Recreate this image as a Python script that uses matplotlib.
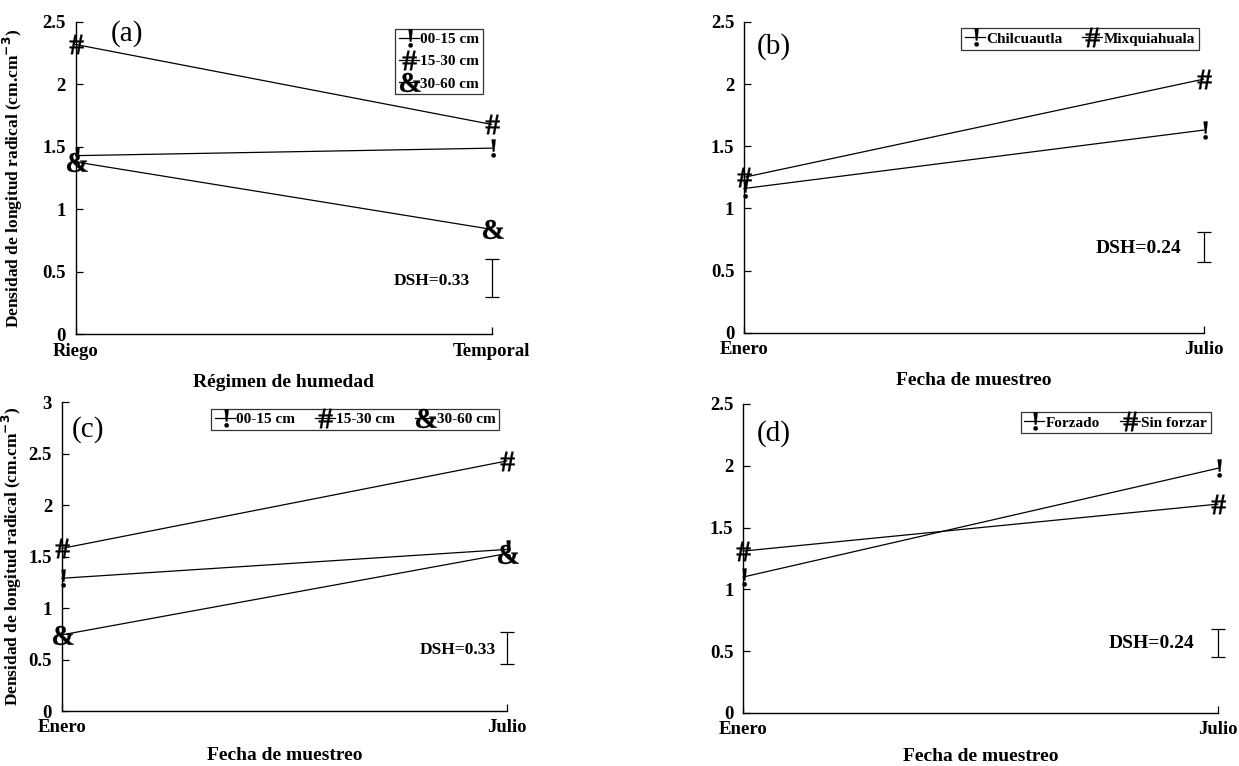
import matplotlib
matplotlib.use('Agg')
import matplotlib.pyplot as plt
from matplotlib.textpath import TextPath
from matplotlib.font_manager import FontProperties
from matplotlib.path import Path

plt.rcParams['font.family'] = ['Liberation Serif', 'DejaVu Serif']
plt.rcParams['font.weight'] = 'bold'

# datos
x_a = ['Riego', 'Temporal']
a_00_15 = [1.43, 1.49]
a_15_30 = [2.32, 1.68]
a_30_60 = [1.38, 0.84]

x_fecha = ['Enero', 'Julio']
b_chil = [1.16, 1.63]
b_mixq = [1.25, 2.04]

c_00_15 = [1.29, 1.57]
c_15_30 = [1.58, 2.43]
c_30_60 = [0.74, 1.53]

d_forz = [1.10, 1.98]
d_sinf = [1.31, 1.69]

dsh_a = (0.30, 0.60)
dsh_b = (0.57, 0.81)
dsh_c = (0.46, 0.77)
dsh_d = (0.45, 0.68)


def glyph(ch):
    # marcador a partir del caracter (como en el grafico original)
    fp = FontProperties(family='Liberation Serif', weight='bold')
    tp = TextPath((0, 0), ch, size=10, prop=fp)
    v = tp.vertices.copy()
    v[:, 0] -= (v[:, 0].min() + v[:, 0].max()) / 2
    v[:, 1] -= (v[:, 1].min() + v[:, 1].max()) / 2
    return Path(v, tp.codes)


mk = {'!': glyph('!'), '#': glyph('#'), '&': glyph('&')}
ms = {'!': 13, '#': 14, '&': 16}

ylab = 'Densidad de longitud radical (cm.cm$^{-3}$)'

fig = plt.figure(figsize=(12.39, 7.66), dpi=100)
ax_a = fig.add_axes([0.0610, 0.5636, 0.3358, 0.4077])
ax_b = fig.add_axes([0.6005, 0.5657, 0.3709, 0.4056])
ax_c = fig.add_axes([0.0499, 0.0718, 0.3591, 0.4030])
ax_d = fig.add_axes([0.5998, 0.0692, 0.3832, 0.4034])


def panel(ax, xl, series, ymax, dsh, dsh_txt, dsh_pos, dsh_fs, letter, let_xy,
          xlabel, xlpad, leg_anchor, ncol, ylabel=None, ylab_x=None):
    xs = [0, 1]
    for ys, m, lab in series:
        ax.plot(xs, ys, color='black', lw=0.9, marker=mk[m], ms=ms[m],
                mec='black', mfc='black', mew=0.2, label=lab, clip_on=False)
    ax.set_xlim(0, 1)
    ax.set_ylim(0, ymax)
    ax.set_xticks(xs)
    ax.set_xticklabels(xl)
    yt = [i * 0.5 for i in range(int(round(ymax / 0.5)) + 1)]
    ax.set_yticks(yt)
    ax.set_yticklabels(['%g' % v for v in yt])
    ax.tick_params(direction='in', length=5, width=0.9, labelsize=13.5)
    ax.tick_params(axis='y', pad=7)
    ax.tick_params(axis='x', pad=6)
    for s in ['top', 'right']:
        ax.spines[s].set_visible(False)
    for s in ['left', 'bottom']:
        ax.spines[s].set_linewidth(1.0)
    # barra DSH
    ax.errorbar([1.0], [(dsh[0] + dsh[1]) / 2], yerr=[(dsh[1] - dsh[0]) / 2],
                color='black', lw=0.9, capsize=5, capthick=0.9, clip_on=False)
    ax.text(dsh_pos[0], dsh_pos[1], dsh_txt, ha='right', va='center',
            fontsize=dsh_fs, fontweight='bold')
    ax.text(let_xy[0], let_xy[1], letter, transform=ax.transAxes, ha='center',
            va='center', fontsize=21, fontweight='normal')
    ax.set_xlabel(xlabel, fontsize=14, fontweight='bold', labelpad=xlpad)
    if ylabel:
        ax.set_ylabel(ylabel, fontsize=12.5, fontweight='bold')
        ax.yaxis.set_label_coords(ylab_x, 0.5)
    leg = ax.legend(loc='upper right', bbox_to_anchor=leg_anchor, ncol=ncol,
                    frameon=True, fancybox=False, edgecolor='black',
                    fontsize=11, handlelength=1.3, handletextpad=0.1,
                    columnspacing=1.3, borderpad=0.25,
                    labelspacing=0.55 if ncol == 1 else 0.3,
                    borderaxespad=0)
    leg.get_frame().set_linewidth(0.9)


panel(ax_a, x_a,
      [(a_00_15, '!', '00-15 cm'), (a_15_30, '#', '15-30 cm'), (a_30_60, '&', '30-60 cm')],
      2.5, dsh_a, 'DSH=0.33', (0.949, 0.43), 12.5, '(a)', (0.123, 0.962),
      'Régimen de humedad', 10, (0.979, 0.978), 1, ylab, -0.1216)
panel(ax_b, x_fecha,
      [(b_chil, '!', 'Chilcuautla'), (b_mixq, '#', 'Mixquiahuala')],
      2.5, dsh_b, 'DSH=0.24', (0.951, 0.68), 14, '(b)', (0.064, 0.92),
      'Fecha de muestreo', 10, (0.99, 0.98), 2)
panel(ax_c, x_fecha,
      [(c_00_15, '!', '00-15 cm'), (c_15_30, '#', '15-30 cm'), (c_30_60, '&', '30-60 cm')],
      3, dsh_c, 'DSH=0.33', (0.976, 0.59), 12.5, '(c)', (0.058, 0.911),
      'Fecha de muestreo', 8, (0.983, 0.979), 3, ylab, -0.086)
panel(ax_d, x_fecha,
      [(d_forz, '!', 'Forzado'), (d_sinf, '#', 'Sin forzar')],
      2.5, dsh_d, 'DSH=0.24', (0.951, 0.56), 14, '(d)', (0.064, 0.906),
      'Fecha de muestreo', 7, (0.985, 0.974), 2)

fig.savefig('out.png', dpi=100)
